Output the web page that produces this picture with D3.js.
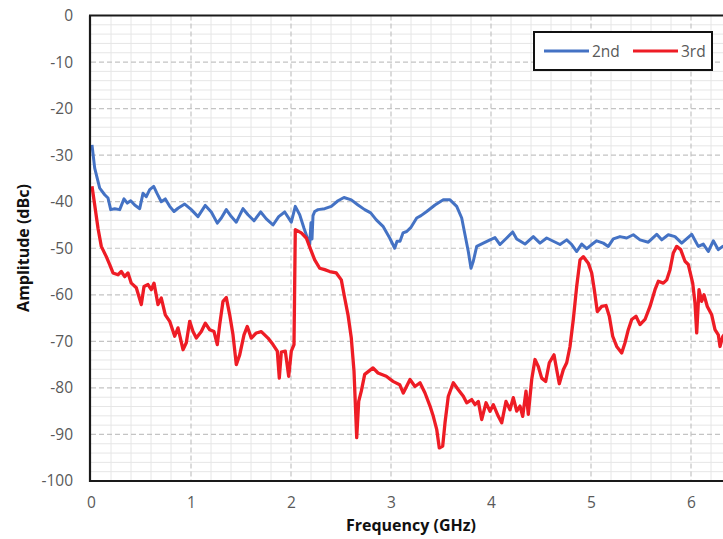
<!DOCTYPE html>
<html>
<head>
<meta charset="utf-8">
<script src="https://cdn.jsdelivr.net/npm/d3@7"></script>
<style>
  body { margin: 0; background: #fff; }
  text { font-family: "Open Sans", "Liberation Sans", sans-serif; }
</style>
</head>
<body>
<svg width="723" height="539"></svg>
<script>
var WIDTH = 723;
var HEIGHT = 539;

// tick labels
var xTicks = [0, 1, 2, 3, 4, 5, 6];
var yTicks = [0, -10, -20, -30, -40, -50, -60, -70, -80, -90, -100];
var seriesNames = ["2nd", "3rd"];
var seriesColors = ["#4472c4", "#ee1c25"];

// 2nd harmonic (GHz, dBc)
var freq2nd = [0.01, 0.037, 0.087, 0.137, 0.17, 0.197, 0.237, 0.287, 0.33, 0.363, 0.397, 0.437, 0.487, 0.52, 0.553, 0.587, 0.627, 0.66,
  0.703, 0.743, 0.787, 0.83, 0.87, 0.937, 1.003, 1.07, 1.143, 1.203, 1.263, 1.303, 1.353, 1.403, 1.453, 1.52, 1.57, 1.63, 1.697,
  1.753, 1.82, 1.877, 1.937, 2.003, 2.043, 2.087, 2.13, 2.17, 2.187, 2.2, 2.21, 2.22, 2.237, 2.27, 2.337, 2.403, 2.47, 2.53, 2.603,
  2.67, 2.737, 2.797, 2.853, 2.92, 2.987, 3.037, 3.06, 3.09, 3.12, 3.157, 3.2, 3.257, 3.3, 3.357, 3.44, 3.523, 3.59, 3.657, 3.707,
  3.74, 3.773, 3.8, 3.823, 3.857, 3.923, 3.99, 4.04, 4.09, 4.157, 4.217, 4.257, 4.34, 4.423, 4.49, 4.557, 4.623, 4.69, 4.757, 4.807,
  4.857, 4.907, 4.957, 5.007, 5.057, 5.123, 5.173, 5.223, 5.29, 5.357, 5.423, 5.49, 5.573, 5.657, 5.707, 5.773, 5.84, 5.907, 6.007,
  6.073, 6.123, 6.173, 6.223, 6.273, 6.317, 6.35];
var amp2nd = [-27.8, -32.8, -37.1, -38.5, -39.2, -41.7, -41.5, -41.7, -39.4, -40.3, -39.8, -40.7, -41.5, -38.2, -38.9, -37.4, -36.7, -38.2,
  -40.0, -39.4, -41.0, -42.1, -41.4, -40.5, -41.7, -43.2, -40.8, -42.2, -44.6, -43.5, -41.7, -43.2, -44.4, -41.5, -42.8, -44.1, -42.2,
  -43.7, -45.0, -43.2, -42.2, -44.4, -41.0, -42.8, -45.7, -48.2, -49.2, -44.5, -48.0, -43.0, -42.1, -41.7, -41.5, -41.0, -39.8, -39.1, -39.6,
  -40.7, -41.7, -42.4, -43.9, -45.3, -47.8, -50.0, -48.5, -48.5, -46.7, -46.4, -45.5, -43.5, -43.0, -42.1, -40.7, -39.6, -39.6, -41.0, -43.5,
  -47.1, -50.7, -54.3, -52.8, -49.6, -48.9, -48.2, -47.7, -49.2, -47.8, -46.5, -48.0, -49.1, -47.5, -48.9, -47.8, -48.5, -49.2, -48.2, -49.2,
  -50.7, -49.1, -50.1, -49.2, -48.4, -48.9, -49.6, -48.0, -47.5, -47.8, -47.1, -48.2, -48.7, -47.0, -48.2, -47.1, -47.5, -48.9, -47.0,
  -49.6, -49.1, -50.7, -48.4, -50.3, -49.6, -50.0];

// 3rd harmonic (GHz, dBc)
var freq3rd = [0.01, 0.037, 0.07, 0.103, 0.153, 0.187, 0.22, 0.27, 0.303, 0.337, 0.37, 0.403, 0.453, 0.503, 0.53, 0.57, 0.603, 0.63,
  0.67, 0.703, 0.743, 0.787, 0.837, 0.87, 0.92, 0.953, 0.987, 1.02, 1.053, 1.103, 1.143, 1.187, 1.23, 1.263, 1.287, 1.32, 1.353, 1.387,
  1.42, 1.453, 1.487, 1.53, 1.563, 1.603, 1.653, 1.703, 1.77, 1.82, 1.863, 1.883, 1.903, 1.943, 1.977, 2.003, 2.03, 2.043, 2.103, 2.153,
  2.197, 2.237, 2.287, 2.337, 2.387, 2.453, 2.503, 2.537, 2.57, 2.603, 2.63, 2.657, 2.677, 2.703, 2.737, 2.82, 2.87, 2.953, 3.02, 3.087,
  3.123, 3.19, 3.24, 3.29, 3.34, 3.39, 3.423, 3.457, 3.483, 3.517, 3.54, 3.573, 3.623, 3.673, 3.723, 3.757, 3.807, 3.84, 3.873, 3.907,
  3.95, 3.99, 4.023, 4.073, 4.107, 4.15, 4.19, 4.223, 4.257, 4.29, 4.317, 4.35, 4.373, 4.407, 4.44, 4.473, 4.507, 4.547, 4.583, 4.63,
  4.657, 4.683, 4.723, 4.757, 4.79, 4.823, 4.857, 4.89, 4.923, 4.973, 5.007, 5.033, 5.063, 5.107, 5.15, 5.183, 5.217, 5.257, 5.307,
  5.34, 5.373, 5.407, 5.45, 5.49, 5.54, 5.59, 5.64, 5.673, 5.723, 5.757, 5.79, 5.823, 5.857, 5.897, 5.94, 5.973, 6.017, 6.04, 6.057,
  6.08, 6.107, 6.13, 6.163, 6.207, 6.24, 6.273, 6.29, 6.317, 6.35];
var amp3rd = [-36.7, -40.7, -45.7, -49.6, -51.8, -53.5, -55.3, -55.7, -55.0, -56.1, -55.3, -57.5, -58.5, -62.1, -58.2, -57.8, -58.9, -57.5,
  -62.1, -60.7, -64.3, -65.7, -68.9, -67.1, -71.8, -70.3, -65.7, -67.9, -69.3, -67.9, -66.1, -67.5, -67.9, -70.7, -66.4, -61.4, -60.6, -64.3,
  -68.6, -75.0, -72.9, -68.6, -66.8, -69.3, -68.2, -67.9, -69.3, -70.7, -72.1, -77.9, -72.3, -72.1, -77.5, -72.1, -70.7, -46.0, -46.7, -47.8,
  -50.3, -52.5, -54.3, -54.6, -55.0, -55.3, -56.8, -60.7, -64.3, -69.3, -76.4, -90.7, -82.9, -80.7, -77.1, -75.7, -76.8, -77.5, -78.6, -79.3,
  -81.1, -78.2, -79.7, -78.9, -81.1, -83.9, -86.1, -88.9, -92.9, -92.5, -87.5, -81.8, -78.9, -80.4, -81.8, -83.2, -82.5, -83.6, -82.9, -86.8,
  -83.2, -85.0, -83.6, -86.1, -87.5, -82.9, -84.7, -82.1, -85.0, -83.9, -86.1, -80.7, -85.7, -78.2, -73.9, -75.4, -77.9, -78.6, -74.6, -72.9,
  -76.1, -79.1, -76.1, -74.6, -71.1, -65.3, -58.2, -52.5, -51.8, -53.2, -55.3, -58.9, -63.6, -62.5, -62.3, -64.6, -68.9, -71.1, -72.5,
  -70.3, -67.5, -65.3, -64.6, -66.4, -65.3, -62.5, -58.9, -57.1, -57.5, -56.8, -54.6, -51.0, -49.6, -50.3, -52.8, -53.5, -57.5, -61.8, -68.2,
  -58.9, -61.4, -60.0, -62.5, -64.3, -67.5, -68.6, -71.1, -69.0, -68.0];

var plotLeft = 91, plotTop = 15.5, plotBottom = 481;

var svg = d3.select("svg")
    .attr("width", WIDTH)
    .attr("height", HEIGHT);

var x = d3.scaleLinear().domain([0, 6]).range([plotLeft, plotLeft + 600]);
var y = d3.scaleLinear().domain([-100, 0]).range([plotBottom, plotTop]);
var xMax = x.invert(WIDTH + 5);

svg.append("defs").append("clipPath").attr("id", "plot")
    .append("rect")
    .attr("x", plotLeft - 1).attr("y", plotTop)
    .attr("width", WIDTH - plotLeft + 1).attr("height", plotBottom - plotTop);

// minor grid
var grid = svg.append("g");
grid.selectAll("line.mx")
    .data(d3.range(0, 33).map(function(i) { return i * 0.2; }).filter(function(v) { return v <= xMax && Math.abs(v - Math.round(v)) > 0.01; }))
    .enter().append("line")
    .attr("x1", function(d) { return x(d); }).attr("x2", function(d) { return x(d); })
    .attr("y1", plotTop).attr("y2", plotBottom)
    .attr("stroke", "#e6e6e6").attr("stroke-width", 1);
grid.selectAll("line.my")
    .data(d3.range(-100, 1, 2).filter(function(v) { return v % 10 !== 0; }))
    .enter().append("line")
    .attr("x1", plotLeft).attr("x2", WIDTH)
    .attr("y1", function(d) { return y(d); }).attr("y2", function(d) { return y(d); })
    .attr("stroke", "#e6e6e6").attr("stroke-width", 1);

// major dashed grid
grid.selectAll("line.Mx")
    .data(xTicks.filter(function(v) { return v > 0; }))
    .enter().append("line")
    .attr("x1", function(d) { return x(d); }).attr("x2", function(d) { return x(d); })
    .attr("y1", plotTop).attr("y2", plotBottom)
    .attr("stroke", "#c4c4c4").attr("stroke-width", 1.2).attr("stroke-dasharray", "5,3");
grid.selectAll("line.My")
    .data(yTicks.filter(function(v) { return v > -100 && v < 0; }))
    .enter().append("line")
    .attr("x1", plotLeft).attr("x2", WIDTH)
    .attr("y1", function(d) { return y(d); }).attr("y2", function(d) { return y(d); })
    .attr("stroke", "#c4c4c4").attr("stroke-width", 1.2).attr("stroke-dasharray", "5,3");

// curves
var line = d3.line()
    .x(function(d) { return x(d[0]); })
    .y(function(d) { return y(d[1]); });

var series = [d3.zip(freq2nd, amp2nd), d3.zip(freq3rd, amp3rd)];
svg.append("g").attr("clip-path", "url(#plot)")
    .selectAll("path")
    .data(series)
    .enter().append("path")
    .attr("d", line)
    .attr("fill", "none")
    .attr("stroke", function(d, i) { return seriesColors[i]; })
    .attr("stroke-width", function(d, i) { return i === 0 ? 3 : 3.3; })
    .attr("stroke-linejoin", "round");

// frame (left, top, bottom)
var frame = svg.append("g").attr("stroke", "#1a1a1a").attr("stroke-width", 2.2);
frame.append("line").attr("x1", plotLeft - 1).attr("x2", plotLeft - 1).attr("y1", plotTop).attr("y2", plotBottom + 1);
frame.append("line").attr("x1", plotLeft - 2).attr("x2", WIDTH).attr("y1", plotTop).attr("y2", plotTop);
frame.append("line").attr("x1", plotLeft - 2).attr("x2", WIDTH).attr("y1", plotBottom).attr("y2", plotBottom);

// tick labels (plain hyphen for negatives, as in the original)
var yAxis = d3.axisLeft(y).tickValues(yTicks).tickSize(0).tickPadding(18).tickFormat(function(d) { return String(d); });
var gy = svg.append("g").attr("transform", "translate(" + plotLeft + ",0)").call(yAxis);
gy.select(".domain").remove();
gy.selectAll("text").attr("fill", "#595959").style("font-size", "15.5px")
    .style("font-family", "Open Sans, sans-serif");

var xAxis = d3.axisBottom(x).tickValues(xTicks).tickSize(0).tickPadding(16).tickFormat(function(d) { return String(d); });
var gx = svg.append("g").attr("transform", "translate(0," + plotBottom + ")").call(xAxis);
gx.select(".domain").remove();
gx.selectAll("text").attr("fill", "#595959").style("font-size", "15.5px")
    .style("font-family", "Open Sans, sans-serif");

// axis titles
svg.append("text")
    .attr("x", 411).attr("y", 531)
    .attr("text-anchor", "middle")
    .style("font-size", "16px").style("font-weight", "bold").attr("fill", "#111")
    .text("Frequency (GHz)");
svg.append("text")
    .attr("transform", "translate(29,248) rotate(-90)")
    .attr("text-anchor", "middle")
    .style("font-size", "16px").style("font-weight", "bold").attr("fill", "#111")
    .text("Amplitude (dBc)");

// legend
var legend = svg.append("g");
legend.append("rect")
    .attr("x", 534).attr("y", 32).attr("width", 178).attr("height", 38)
    .attr("fill", "#fff").attr("stroke", "#111").attr("stroke-width", 2);
var items = legend.selectAll("g.item")
    .data(seriesNames)
    .enter().append("g")
    .attr("transform", function(d, i) { return "translate(" + (544 + i * 89) + ",51)"; });
items.append("line")
    .attr("x1", 0).attr("x2", 45).attr("y1", 0).attr("y2", 0)
    .attr("stroke", function(d, i) { return seriesColors[i]; })
    .attr("stroke-width", 3);
items.append("text")
    .attr("x", 48).attr("y", 5.5)
    .attr("fill", "#595959").style("font-size", "15.5px")
    .text(function(d) { return d; });
</script>
</body>
</html>
